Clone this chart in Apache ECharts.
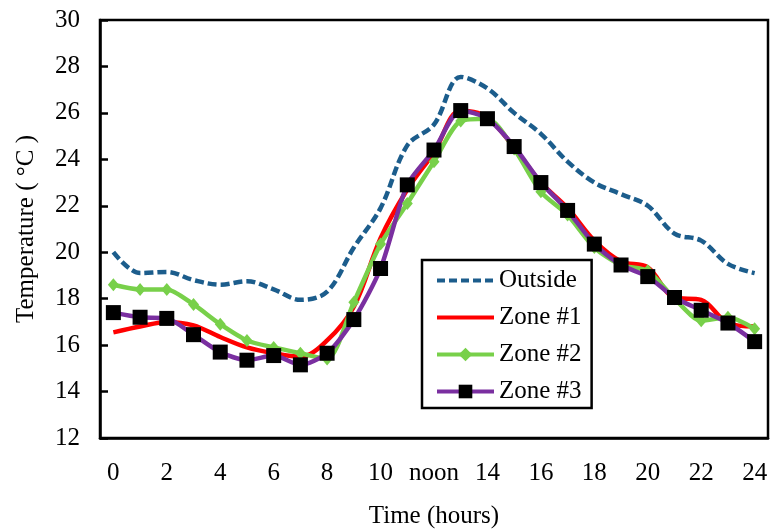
<!DOCTYPE html>
<html>
<head>
<meta charset="utf-8">
<script src="https://cdn.jsdelivr.net/npm/echarts@6/dist/echarts.min.js"></script>
<style>
  html, body { margin: 0; padding: 0; background: #fff; }
  #chart { width: 771px; height: 531px; }
</style>
</head>
<body>
<div id="chart"></div>
<script>
// hourly temperatures
const hours = ['0','1','2','3','4','5','6','7','8','9','10','11','noon','13','14','15','16','17','18','19','20','21','22','23','24'];
const outside = [20.0, 19.1, 19.15, 18.8, 18.6, 18.75, 18.4, 17.95, 18.3, 20.2, 21.9, 24.6, 25.5, 27.55, 27.05, 26.0, 25.1, 23.9, 23.0, 22.5, 22.0, 20.8, 20.5, 19.5, 19.1];
const zone1 = [16.55, 16.8, 17.0, 16.85, 16.35, 15.9, 15.65, 15.5, 16.2, 17.65, 20.6, 22.7, 24.3, 26.1, 25.8, 24.5, 23.0, 21.9, 20.5, 19.6, 19.35, 18.05, 17.95, 16.95, 16.8];
const zone2 = [18.6, 18.4, 18.4, 17.75, 16.9, 16.2, 15.9, 15.65, 15.4, 17.85, 20.35, 22.1, 23.9, 25.65, 25.75, 24.45, 22.6, 21.6, 20.2, 19.45, 19.2, 18.0, 17.05, 17.2, 16.7];
const zone3 = [17.4, 17.2, 17.15, 16.45, 15.7, 15.35, 15.55, 15.15, 15.65, 17.1, 19.3, 22.9, 24.4, 26.1, 25.75, 24.55, 23.0, 21.8, 20.35, 19.45, 18.95, 18.05, 17.5, 16.95, 16.15];
const yTicks = { min: 12, max: 30, step: 2 };

const serif = 'Liberation Serif';
const fs = 25;
const chart = echarts.init(document.getElementById('chart'));

const colOut = '#1c5d8c', colZ1 = '#ff0000', colZ2 = '#78d04a', colZ3 = '#7a2fa0';
const noMark = { opacity: 0, borderWidth: 0 };

chart.setOption({
    animation: false,
    textStyle: { fontFamily: serif, color: '#000' },
    grid: { left: 100, top: 20, right: 3, bottom: 93, show: true, borderColor: '#000', borderWidth: 2.5, outerBoundsMode: 'none' },
    legend: {
        orient: 'vertical', left: 422, top: 260,
        backgroundColor: '#fff', borderColor: '#000', borderWidth: 2.5,
        padding: [8, 10, 4, 13],
        itemWidth: 57, itemHeight: 17, itemGap: 12,
        textStyle: { fontFamily: serif, fontSize: fs, color: '#000' },
        data: [
            { name: 'Outside', itemStyle: noMark, lineStyle: { width: 4, type: [8, 4] } },
            { name: 'Zone #1', itemStyle: noMark, lineStyle: { width: 4 } },
            { name: 'Zone #2', lineStyle: { width: 4 } },
            { name: 'Zone #3', lineStyle: { width: 4 } }
        ]
    },
    xAxis: {
        type: 'category', data: hours, boundaryGap: true,
        name: 'Time (hours)', nameLocation: 'middle', nameGap: 66,
        nameTextStyle: { fontFamily: serif, fontSize: fs, color: '#000' },
        axisLine: { lineStyle: { color: '#000', width: 2.5 } },
        axisTick: { inside: true, length: 8, interval: 0, lineStyle: { color: '#000', width: 2.5 } },
        axisLabel: { interval: 1, margin: 23, fontFamily: serif, fontSize: fs, color: '#000' },
        splitLine: { show: false }
    },
    yAxis: {
        type: 'value', min: yTicks.min, max: yTicks.max, interval: yTicks.step,
        name: 'Temperature ( \u00B0C )', nameLocation: 'middle', nameGap: 61,
        nameTextStyle: { fontFamily: serif, fontSize: fs, color: '#000' },
        axisLine: { show: true, lineStyle: { color: '#000', width: 2.5 } },
        axisTick: { show: true, inside: true, length: 8, lineStyle: { color: '#000', width: 2.5 } },
        axisLabel: { margin: 20, fontFamily: serif, fontSize: fs, color: '#000' },
        splitLine: { show: false }
    },
    series: [
        { name: 'Outside', type: 'line', data: outside, smooth: 0.35, symbol: 'none',
          lineStyle: { color: colOut, width: 4.5, type: [9, 4] }, itemStyle: { color: colOut } },
        { name: 'Zone #1', type: 'line', data: zone1, smooth: 0.35, symbol: 'none',
          lineStyle: { color: colZ1, width: 4.5 }, itemStyle: { color: colZ1 } },
        { name: 'Zone #2', type: 'line', data: zone2, smooth: 0.25, symbol: 'diamond', symbolSize: [11, 13],
          lineStyle: { color: colZ2, width: 4.5 }, itemStyle: { color: colZ2 } },
        { name: 'Zone #3', type: 'line', data: zone3, smooth: 0.25, symbol: 'rect', symbolSize: 15,
          lineStyle: { color: colZ3, width: 4.5 }, itemStyle: { color: '#000' } }
    ]
});
</script>
</body>
</html>
